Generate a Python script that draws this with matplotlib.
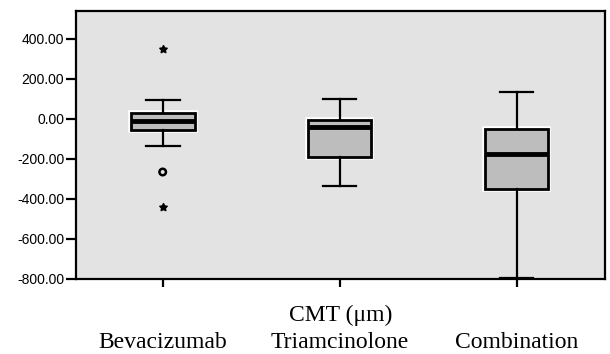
import matplotlib
matplotlib.use("Agg")
import matplotlib.pyplot as plt
import matplotlib.patheffects as pe

categories = ["Bevacizumab", "Triamcinolone", "Combination"]
whisker_low = [-135, -335, -795]
q1 = [-55, -190, -350]
median = [-10, -40, -175]
q3 = [30, -5, -50]
whisker_high = [95, 100, 135]
circle_outliers_x = [1]
circle_outliers_y = [-265]
star_outliers_x = [1, 1]
star_outliers_y = [350, -440]
y_ticks = [400, 200, 0, -200, -400, -600, -800]
x_label = "CMT (μm)"

fig = plt.figure(figsize=(6.1, 3.54), dpi=100)
ax = fig.add_axes([76/610, 1 - 279/354, (605-76)/610, (279-11)/354])
ax.set_facecolor("#e3e3e3")

stats = []
for i, c in enumerate(categories):
    stats.append(dict(label=c, whislo=whisker_low[i], q1=q1[i], med=median[i],
                      q3=q3[i], whishi=whisker_high[i], fliers=[]))

halo = [pe.withStroke(linewidth=4, foreground="white")]
bp = ax.bxp(stats, positions=[1, 2, 3], widths=0.36, patch_artist=True,
            showfliers=False, capwidths=0.19,
            boxprops=dict(facecolor="#bdbdbd", edgecolor="black", linewidth=2),
            medianprops=dict(color="black", linewidth=3.5),
            whiskerprops=dict(color="black", linewidth=1.6),
            capprops=dict(color="black", linewidth=1.6))
for b in bp["boxes"]:
    b.set_path_effects(halo)

ax.scatter(circle_outliers_x, circle_outliers_y, marker="o", s=22,
           facecolors="none", edgecolors="black", linewidths=1.8, zorder=5)
ax.scatter(star_outliers_x, star_outliers_y, marker=(5, 1, 0), s=32,
           color="black", zorder=5)

ax.set_xlim(0.51, 3.5)
ax.set_ylim(-800, 540)
ax.set_yticks(y_ticks)
ax.set_yticklabels([f"{v:.2f}" for v in y_ticks], fontfamily="Liberation Sans",
                   fontsize=10)
ax.set_xticks([1, 2, 3])
ax.set_xticklabels(categories, fontfamily="Liberation Serif", fontsize=17)
for lbl in ax.get_xticklabels():
    lbl.set_verticalalignment("baseline")
ax.tick_params(axis="x", length=5.8, width=1.6, pad=44)
ax.tick_params(axis="y", length=7.5, width=1.6, pad=1)
for s in ax.spines.values():
    s.set_linewidth(1.6)
ax.text(0.5, -(321 - 279) / 268, x_label, transform=ax.transAxes,
        ha="center", va="baseline", fontfamily="Liberation Serif", fontsize=17)

fig.savefig("out.png", dpi=100)
